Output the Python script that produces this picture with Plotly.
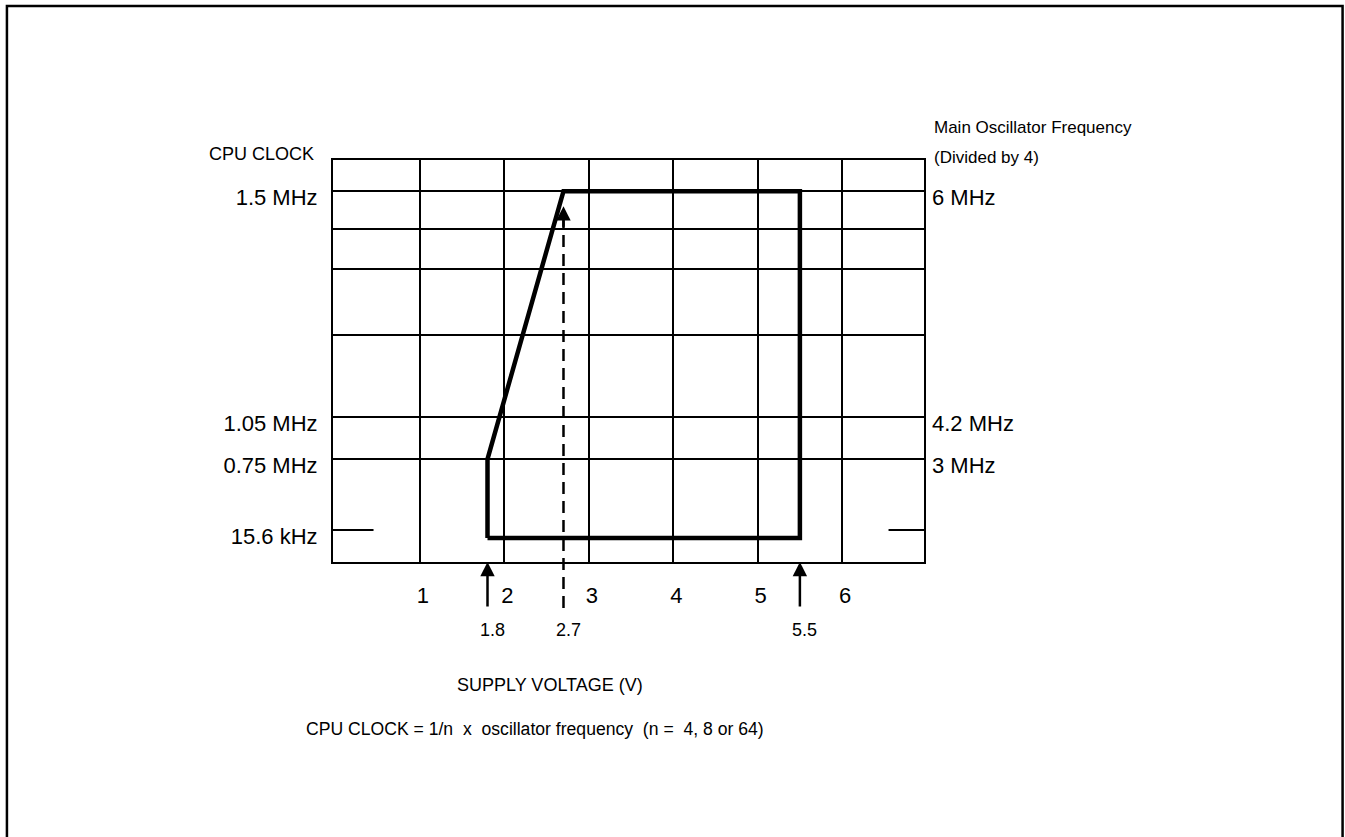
import plotly.graph_objects as go

# ---------------- data ----------------
# x: supply voltage (V); y: schematic level of the CPU-clock scale (arbitrary units, bottom of frame = 0)
x_ticks = [1, 2, 3, 4, 5, 6]
x_tick_text = ["1", "2", "3", "4", "5", "6"]

# schematic level positions of the frequency scale
level_top = 402.2
level_1500k = 371      # 1.5 MHz  / 6 MHz
level_105 = 145        # 1.05 MHz / 4.2 MHz
level_075 = 103        # 0.75 MHz / 3 MHz
level_15k6 = 32        # 15.6 kHz (short tick)
level_path_bottom = 24 # bottom edge of the operating area
extra_grid_levels = [333, 293, 227]

left_tick_vals = [level_1500k, level_105, level_075, level_15k6]
left_tick_text = ["1.5 MHz", "1.05 MHz", "0.75 MHz", "15.6 kHz"]

grid_levels = [level_1500k] + extra_grid_levels + [level_105, level_075]
right_tick_text = ["6 MHz", "", "", "", "4.2 MHz", "3 MHz"]

# operating area outline
area_voltage = [1.8, 1.8, 2.7, 5.5, 5.5, 1.8]
area_level = [level_path_bottom, level_075, level_1500k, level_1500k, level_path_bottom, level_path_bottom]

# marked voltages
marked_voltages = [1.8, 2.7, 5.5]
marked_labels = ["1.8", "2.7", "5.5"]

x_range = [-0.03, 6.97]
short_tick_left_x = [x_range[0], 0.45]
short_tick_right_x = [6.55, x_range[1]]

# ---------------- layout constants ----------------
W, H = 1345, 837
OFF = 0                       # page body margin removed via post_script
PX0, PX1 = 332.7, 924.3       # plot box in window pixels
PY0, PY1 = 159.5, 561.7
PW, PH = PX1 - PX0, PY1 - PY0
ML, MT = PX0 - OFF, PY0 - OFF
MR, MB = W - ML - PW, H - MT - PH

FONT = "Liberation Sans, Arial, sans-serif"

fig = go.Figure()

fig.add_trace(go.Scatter(
    x=area_voltage, y=area_level, mode="lines",
    line=dict(color="black", width=4.5), showlegend=False, hoverinfo="skip"))

# short 15.6 kHz ticks (on right axis so it gets a trace)
for xs in (short_tick_left_x, short_tick_right_x):
    fig.add_trace(go.Scatter(
        x=xs, y=[level_15k6, level_15k6], mode="lines", yaxis="y2",
        line=dict(color="black", width=2), showlegend=False, hoverinfo="skip"))

axis_font = dict(family=FONT, size=22, color="black")

fig.update_layout(
    width=W, height=H, autosize=False,
    margin=dict(l=ML, r=MR, t=MT, b=MB, pad=0),
    paper_bgcolor="white", plot_bgcolor="white",
    font=dict(family=FONT, color="black"),
    showlegend=False,
    xaxis=dict(
        range=x_range, tickmode="array", tickvals=x_ticks, ticktext=x_tick_text,
        showgrid=True, gridcolor="black", gridwidth=2, zeroline=False,
        showline=True, mirror=True, linecolor="black", linewidth=2,
        ticks="", tickfont=axis_font, ticklabelstandoff=13, ticklabelshift=3,
        fixedrange=True),
    yaxis=dict(
        range=[0, level_top], tickmode="array", tickvals=left_tick_vals, ticktext=left_tick_text,
        showgrid=False, zeroline=False,
        showline=True, mirror=True, linecolor="black", linewidth=2,
        ticks="", tickfont=axis_font, ticklabelstandoff=9, ticklabelshift=6,
        fixedrange=True),
    yaxis2=dict(
        range=[0, level_top], overlaying="y", side="right",
        tickmode="array", tickvals=grid_levels, ticktext=right_tick_text,
        showgrid=True, gridcolor="black", gridwidth=2, zeroline=False,
        showline=False, ticks="", tickfont=axis_font, ticklabelstandoff=7, ticklabelshift=6,
        fixedrange=True),
)

# dashed 2.7 V marker line (from below the axis up to the arrow head)
fig.add_shape(type="line", xref="x", yref="paper",
              x0=marked_voltages[1], x1=marked_voltages[1],
              y0=-46 / PH, y1=342 / level_top,
              line=dict(color="black", width=2.5, dash="12px,7px"), layer="above")

# arrows at 1.8 V and 5.5 V (tips on the voltage axis)
for v in (marked_voltages[0], marked_voltages[2]):
    fig.add_annotation(x=v, y=0, ax=v, ay=-46, axref="x", ayref="y", xref="x", yref="y",
                       text="", showarrow=True, arrowhead=2, arrowsize=1.15, arrowwidth=2.5,
                       arrowcolor="black")
# arrow head on top of the dashed 2.7 V line
fig.add_annotation(x=marked_voltages[1], y=356, ax=marked_voltages[1], ay=334, axref="x", ayref="y",
                   xref="x", yref="y", text="", showarrow=True, arrowhead=2, arrowsize=1.15,
                   arrowwidth=2.5, arrowcolor="black")

# marked voltage labels
for v, t in zip(marked_voltages, marked_labels):
    fig.add_annotation(x=v, xref="x", y=0, yref="paper", yshift=-68, xshift=5,
                       text=t, showarrow=False, font=dict(family=FONT, size=18),
                       xanchor="center", yanchor="middle")

# titles
fig.add_annotation(x=0, xref="paper", y=1, yref="paper", xshift=-17, yshift=6,
                   text="CPU CLOCK", showarrow=False, xanchor="right", yanchor="middle",
                   font=dict(family=FONT, size=18))
fig.add_annotation(x=1, xref="paper", y=1, yref="paper", xshift=8, yshift=33,
                   text="Main Oscillator Frequency", showarrow=False, xanchor="left", yanchor="middle",
                   font=dict(family=FONT, size=17))
fig.add_annotation(x=1, xref="paper", y=1, yref="paper", xshift=8, yshift=3,
                   text="(Divided by 4)", showarrow=False, xanchor="left", yanchor="middle",
                   font=dict(family=FONT, size=17))
fig.add_annotation(x=(550 - PX0) / PW, xref="paper", y=0, yref="paper", yshift=-(685 - PY1),
                   text="SUPPLY VOLTAGE (V)", showarrow=False, xanchor="center", yanchor="middle",
                   font=dict(family=FONT, size=18))
fig.add_annotation(x=(535 - PX0) / PW, xref="paper", y=0, yref="paper", yshift=-(729 - PY1),
                   text="CPU CLOCK = 1/n  x  oscillator frequency  (n =  4, 8 or 64)",
                   showarrow=False, xanchor="center", yanchor="middle",
                   font=dict(family=FONT, size=17.6))

# outer border of the figure
fig.add_shape(type="rect", xref="paper", yref="paper",
              x0=(6.3 - PX0) / PW, x1=(1343.3 - PX0) / PW,
              y0=(PY1 - 850) / PH, y1=(PY1 - 5.3) / PH,
              line=dict(color="black", width=2.5), fillcolor="rgba(0,0,0,0)", layer="above")

fig.write_html("out.html", config={"displayModeBar": False},
               post_script="document.body.style.margin='0';document.body.style.overflow='hidden';")
